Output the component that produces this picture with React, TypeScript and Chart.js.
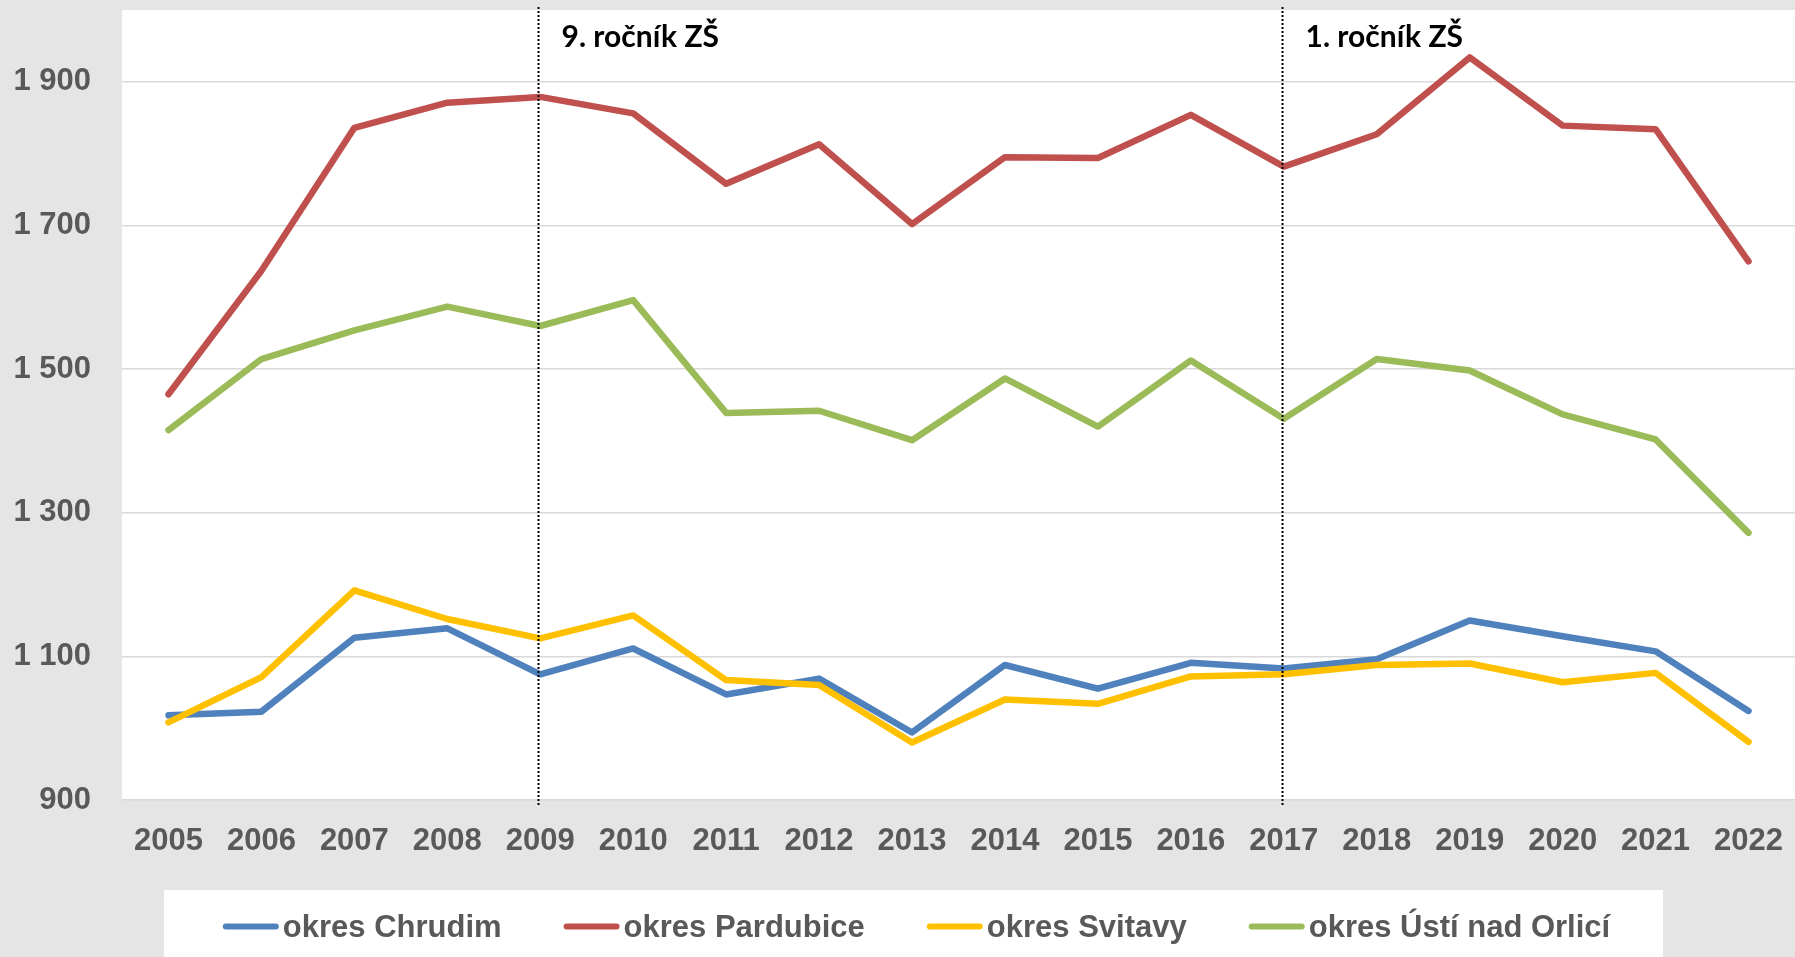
import React, { useEffect, useRef } from 'react';
import { Chart, registerables } from 'chart.js';

Chart.register(...registerables);

const years = ['2005', '2006', '2007', '2008', '2009', '2010', '2011', '2012', '2013', '2014', '2015', '2016', '2017', '2018', '2019', '2020', '2021', '2022'];

const seriesLabels = ['okres Chrudim', 'okres Pardubice', 'okres Svitavy', 'okres Ústí nad Orlicí'];
const seriesColors = ['#4F81BD', '#C0504D', '#FFC000', '#9BBB59'];

const chrudim = [1018, 1023, 1126, 1139, 1075, 1111, 1047, 1069, 994, 1088, 1055, 1091, 1083, 1096, 1150, 1128, 1107, 1024];
const pardubice = [1465, 1637, 1836, 1871, 1879, 1856, 1758, 1813, 1702, 1795, 1794, 1854, 1782, 1827, 1934, 1839, 1834, 1650];
const svitavy = [1008, 1071, 1192, 1152, 1125, 1157, 1067, 1060, 980, 1040, 1034, 1072, 1075, 1088, 1090, 1064, 1077, 981];
const usti = [1415, 1514, 1554, 1587, 1560, 1596, 1439, 1442, 1401, 1487, 1420, 1512, 1431, 1514, 1498, 1437, 1402, 1272];

const yMin = 900;
const yMax = 2000;
const yTicks = [900, 1100, 1300, 1500, 1700, 1900];
const yTickLabels = ['900', '1 100', '1 300', '1 500', '1 700', '1 900'];

const markerYears = ['2009', '2017'];
const markerLabels = ['9. ročník ZŠ', '1. ročník ZŠ'];

const TEXT_GREY = '#595959';
const TICK_FONT = 'Liberation Sans';

export default function App() {
  const ref = useRef<HTMLCanvasElement>(null);

  useEffect(() => {
    if (!ref.current) return;

    const bgPlugin = {
      id: 'bgPlugin',
      beforeDraw(chart: any) {
        const { ctx, chartArea: a } = chart;
        ctx.save();
        ctx.fillStyle = '#ffffff';
        ctx.fillRect(a.left, a.top, a.right - a.left, a.bottom - a.top);
        // legend panel
        ctx.fillRect(164, 890, 1499, 67);
        ctx.restore();
      },
    };

    const markerPlugin = {
      id: 'markerPlugin',
      afterDatasetsDraw(chart: any) {
        const { ctx, chartArea: a } = chart;
        const xs = chart.scales.x;
        ctx.save();
        markerYears.forEach((yr, i) => {
          const px = Math.round(xs.getPixelForValue(years.indexOf(yr))) - 1.5;
          ctx.beginPath();
          ctx.setLineDash([2, 2]);
          ctx.lineWidth = 2;
          ctx.strokeStyle = '#000000';
          ctx.moveTo(px, a.top - 3);
          ctx.lineTo(px, a.bottom + 7);
          ctx.stroke();
          ctx.setLineDash([]);
          ctx.fillStyle = '#000000';
          ctx.font = 'bold 30px Lato';
          ctx.textAlign = 'left';
          ctx.textBaseline = 'alphabetic';
          ctx.fillText(markerLabels[i], px + 23, 47);
        });
        ctx.restore();
      },
    };

    const legendPlugin = {
      id: 'customLegend',
      afterDraw(chart: any) {
        const { ctx } = chart;
        const ds = chart.data.datasets;
        ctx.save();
        ctx.font = `bold 31px "${TICK_FONT}"`;
        const swatch = 56;
        const gapText = 4;
        const gapItem = 62;
        const widths = ds.map((d: any) => ctx.measureText(d.label).width);
        const total = widths.reduce((s: number, w: number) => s + swatch + gapText + w, 0) + gapItem * (ds.length - 1);
        let x = 916.5 - total / 2;
        const cy = 926.5;
        ds.forEach((d: any, i: number) => {
          ctx.beginPath();
          ctx.lineCap = 'round';
          ctx.lineWidth = 6;
          ctx.strokeStyle = d.borderColor;
          ctx.moveTo(x + 3, cy);
          ctx.lineTo(x + swatch - 3, cy);
          ctx.stroke();
          ctx.fillStyle = TEXT_GREY;
          ctx.textAlign = 'left';
          ctx.textBaseline = 'alphabetic';
          ctx.fillText(d.label, x + swatch + gapText, 937);
          x += swatch + gapText + widths[i] + gapItem;
        });
        ctx.restore();
      },
    };

    const series = [chrudim, pardubice, svitavy, usti];

    const chart = new Chart(ref.current, {
      type: 'line',
      data: {
        labels: years,
        datasets: series.map((data, i) => ({
          label: seriesLabels[i],
          data,
          borderColor: seriesColors[i],
          backgroundColor: seriesColors[i],
          borderWidth: 6.5,
          pointRadius: 0,
          pointHoverRadius: 0,
          tension: 0,
          fill: false,
          borderCapStyle: 'round',
          borderJoinStyle: 'round',
          order: series.length - i,
        })),
      },
      options: {
        animation: false,
        responsive: true,
        maintainAspectRatio: false,
        events: [],
        layout: { padding: { top: 10, right: 0, bottom: 0, left: 0 } },
        plugins: {
          legend: { display: false },
          tooltip: { enabled: false },
        },
        scales: {
          x: {
            offset: true,
            grid: { display: false, drawTicks: false },
            border: { display: false },
            ticks: {
              color: TEXT_GREY,
              font: { family: TICK_FONT, size: 31, weight: 'bold' },
              padding: 23,
              maxRotation: 0,
              autoSkip: false,
            },
            afterFit(scale: any) {
              scale.height = 157;
              scale.paddingLeft = 0;
              scale.paddingRight = 0;
            },
          },
          y: {
            min: yMin,
            max: yMax,
            grid: { color: '#d9d9d9', lineWidth: 1.5, drawTicks: false },
            border: { display: false },
            ticks: {
              color: TEXT_GREY,
              font: { family: TICK_FONT, size: 31, weight: 'bold' },
              padding: 31,
              callback: (v: any) => {
                const idx = yTicks.indexOf(Number(v));
                return idx >= 0 ? yTickLabels[idx] : '';
              },
            },
            afterBuildTicks(scale: any) {
              scale.ticks = yTicks.map((v) => ({ value: v }));
            },
            afterFit(scale: any) {
              scale.width = 122;
              scale.paddingTop = 0;
              scale.paddingBottom = 0;
            },
          },
        },
      },
      plugins: [bgPlugin, markerPlugin, legendPlugin],
    } as any);

    return () => chart.destroy();
  }, []);

  return (
    <div style={{ position: 'fixed', left: 0, top: 0, width: 1795, height: 957, background: '#e5e5e5' }}>
      <canvas ref={ref} />
    </div>
  );
}
